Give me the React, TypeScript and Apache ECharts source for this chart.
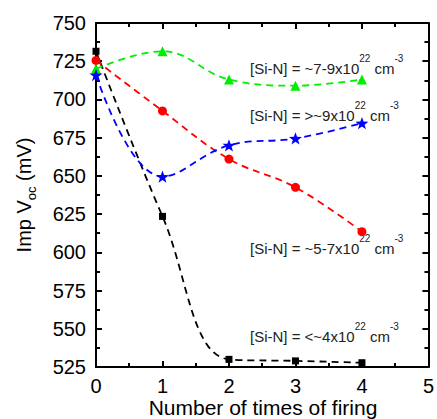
import React, { useEffect, useRef } from "react";
import * as echarts from "echarts";

const xValues = [0, 1, 2, 3, 4];
const blackValues = [731.5, 623.5, 530, 529, 527.8];
const redValues = [725.5, 692.5, 661, 642.5, 613.5];
const greenValues = [720, 731.5, 713, 709, 713];
const blueValues = [716, 649.5, 670, 674.5, 684.5];

const annotationTexts = ["~7-9x10", ">~9x10", "~5-7x10", "<~4x10"];
const annotationY = [68, 115, 248, 336];

const STAR =
  "path://M0,-10 L2.35,-3.24 L9.51,-3.09 L3.8,1.24 L5.88,8.09 L0,4 L-5.88,8.09 L-3.8,1.24 L-9.51,-3.09 L-2.35,-3.24Z";

const FONT = "Liberation Sans, Arial, sans-serif";

const axisCommon = {
  axisLine: { show: true, onZero: false, lineStyle: { color: "#000", width: 2 } },
  axisTick: { show: true, inside: true, length: 6, lineStyle: { color: "#000", width: 2 } },
  minorTick: { show: true, splitNumber: 2, length: 4, lineStyle: { color: "#000", width: 2 } },
  splitLine: { show: false },
};

function pairs(vals: number[]) {
  return xValues.map((x, i) => [x, vals[i]]);
}

function mk(vals: number[], color: string, symbol: string, size: number) {
  return {
    type: "line",
    data: pairs(vals),
    smooth: 0.4,
    symbol,
    symbolSize: size,
    symbolKeepAspect: true,
    itemStyle: { color },
    lineStyle: { color, width: 1.8, type: [7, 5] },
  };
}

export default function App() {
  const ref = useRef<HTMLDivElement>(null);
  useEffect(() => {
    if (!ref.current) return;
    const chart = echarts.init(ref.current, null, { renderer: "svg" });
    chart.setOption({
      animation: false,
      grid: { left: 96, top: 23, right: 7, bottom: 52 },
      xAxis: [
        {
          type: "value",
          min: 0,
          max: 5,
          interval: 1,
          position: "bottom",
          ...axisCommon,
          axisLabel: { fontSize: 20, color: "#000", margin: 9, fontFamily: FONT },
        },
        {
          type: "value",
          min: 0,
          max: 5,
          interval: 1,
          position: "top",
          ...axisCommon,
          axisLabel: { show: false },
        },
      ],
      yAxis: [
        {
          type: "value",
          min: 525,
          max: 750,
          interval: 25,
          position: "left",
          ...axisCommon,
          axisLabel: { fontSize: 20, color: "#000", margin: 10, fontFamily: FONT },
          name: "{n|Imp V}{s|oc}{n| (mV)}",
          nameLocation: "middle",
          nameRotate: 90,
          nameGap: 58,
          nameTextStyle: {
            rich: {
              n: { fontSize: 20, fontFamily: FONT, color: "#000", lineHeight: 28, verticalAlign: "middle" },
              s: { fontSize: 13, fontFamily: FONT, color: "#000", lineHeight: 13, verticalAlign: "bottom" },
            },
          },
        },
        {
          type: "value",
          min: 525,
          max: 750,
          interval: 25,
          position: "right",
          ...axisCommon,
          axisLabel: { show: false },
        },
      ],
      series: [
        mk(blackValues, "#000000", "rect", 7),
        mk(redValues, "#ff0000", "circle", 9),
        mk(greenValues, "#00ee00", "triangle", 10),
        mk(blueValues, "#0000ff", STAR, 13),
      ],
      graphic: [
        {
          type: "text",
          x: 263,
          y: 407,
          style: {
            text: "Number of times of firing",
            fontSize: 21,
            fontFamily: FONT,
            fill: "#000",
            align: "center",
            verticalAlign: "middle",
          },
        },
        ...annotationTexts.map((t, i) => ({
          type: "text",
          x: 250,
          y: annotationY[i],
          style: {
            text: `{n|[Si-N] = ${t}}{s|22}{n| cm}{s|-3}`,
            align: "left",
            verticalAlign: "middle",
            rich: {
              n: { fontSize: 15, fontFamily: FONT, fill: "#222", lineHeight: 30, verticalAlign: "middle" },
              s: { fontSize: 10, fontFamily: FONT, fill: "#222", lineHeight: 10, verticalAlign: "top" },
            },
          },
        })),
      ],
    });
    return () => chart.dispose();
  }, []);
  return <div ref={ref} style={{ width: 437, height: 419, position: "absolute", left: 0, top: 0 }} />;
}
